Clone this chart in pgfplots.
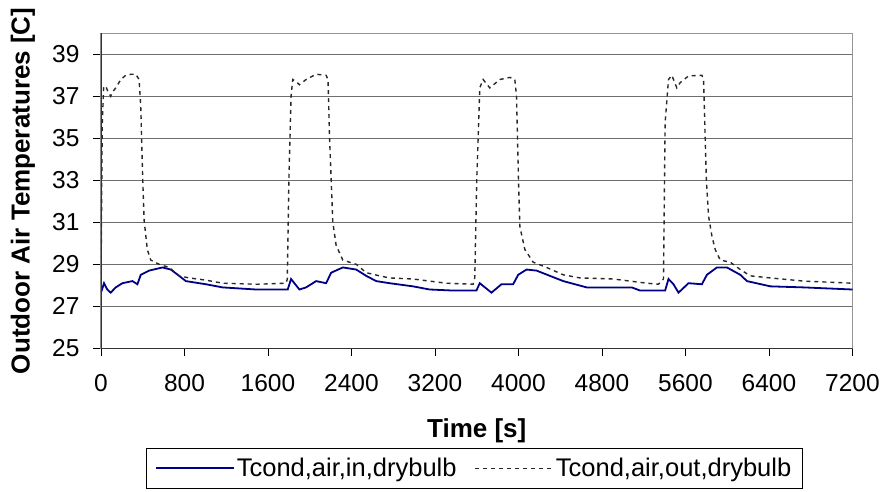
\documentclass[border=0pt]{standalone}
\usepackage{pgfplots}
\pgfplotsset{compat=1.18}
\usepackage{fontspec}
\setmainfont{Liberation Sans}
\definecolor{InBlue}{RGB}{0,0,135}
\definecolor{OutGray}{RGB}{40,40,40}
\definecolor{GridGray}{RGB}{110,110,110}
\definecolor{FrameGray}{RGB}{150,150,150}
\newcommand{\tickfont}{\fontsize{24.5bp}{28bp}\selectfont}
\newcommand{\titlefont}{\fontsize{26bp}{30bp}\selectfont\bfseries}
\newcommand{\legfont}{\fontsize{25.5bp}{30bp}\selectfont}

\begin{document}
\begin{tikzpicture}
\useasboundingbox (-101bp,-143.7bp) rectangle (784bp,348.3bp);
\begin{axis}[
  at={(0,0)}, anchor=south west,
  scale only axis,
  width=751.5bp, height=315bp,
  xmin=0, xmax=7200, ymin=25, ymax=40,
  xtick={0,800,...,7200},
  ytick={25,27,...,39},
  xtick pos=bottom, ytick pos=left,
  tick align=outside,
  major tick length=8bp,
  tick style={black, line width=0.8bp},
  axis line style={FrameGray, line width=1bp},
  ymajorgrids,
  grid style={GridGray, line width=1bp},
  /pgf/number format/assume math mode=true,
  /pgf/number format/1000 sep={},
  tick label style={font=\tickfont},
  xticklabel style={yshift=-15bp},
  yticklabel style={xshift=-10bp},
  xlabel={Time [s]},
  ylabel={Outdoor Air Temperatures [C]},
  label style={font=\titlefont},
  xlabel style={at={(axis description cs:0.5,-0.262)}, anchor=center},
  ylabel style={at={(axis description cs:-0.104,0.5)}, anchor=center},
  legend columns=2,
  legend style={at={(axis description cs:0.4965,-0.3165)}, anchor=north,
    draw=black, line width=0.8bp, font=\legfont,
    inner xsep=9bp, inner ysep=8bp,
    /tikz/every even column/.append style={column sep=16bp}},
  legend image code/.code={\draw[#1] (0bp,0bp) -- (78bp,0bp);},
]
% inlet air (blue)
\addplot[InBlue, line width=1.8bp] coordinates {
(0,27.65) (29,28.1) (60,27.8) (93,27.65) (141,27.9) (205,28.1) (301,28.2)
(349,28.05) (381,28.5) (461,28.7) (589,28.85) (669,28.75) (749,28.45)
(813,28.2) (1005,28.05) (1165,27.9) (1485,27.8) (1789,27.8) (1821,28.3)
(1901,27.8) (1965,27.9) (2061,28.2) (2157,28.1) (2205,28.6) (2317,28.85)
(2445,28.75) (2541,28.45) (2637,28.2) (2765,28.1) (2989,27.95) (3149,27.8)
(3373,27.75) (3597,27.75) (3629,28.1) (3741,27.65) (3837,28.05) (3949,28.05)
(3997,28.5) (4077,28.75) (4173,28.7) (4301,28.45) (4429,28.2) (4653,27.9)
(5085,27.9) (5165,27.75) (5405,27.75) (5437,28.3) (5485,28.05) (5533,27.65)
(5629,28.1) (5757,28.05) (5805,28.5) (5901,28.85) (5997,28.85) (6125,28.5)
(6189,28.2) (6413,27.95) (6733,27.9) (7200,27.8)
};
\addlegendentry{Tcond,air,in,drybulb}
% outlet air (dashed)
\addplot[OutGray, line width=1.4bp, dash pattern=on 4bp off 4bp] coordinates {
(0,28.1) (12,35.6) (25,37.4) (45,37.5) (60,37.3) (93,37.0) (110,37.2)
(141,37.4) (190,37.8) (237,38.0) (290,38.05) (333,38.05) (365,37.8)
(381,36.5) (400,33.0) (413,31.1) (444,29.7) (477,29.2) (557,29.0)
(653,28.85) (749,28.45) (845,28.35) (1000,28.25) (1165,28.1) (1500,28.05)
(1773,28.1) (1785,28.3) (1800,33) (1821,37.0) (1837,37.8) (1870,37.7)
(1901,37.55) (1965,37.8) (2061,38.05) (2157,38.0) (2175,37.8) (2190,35)
(2221,31.0) (2253,29.9) (2317,29.2) (2445,29.0) (2541,28.6) (2669,28.45)
(2765,28.35) (2989,28.3) (3309,28.1) (3565,28.05) (3581,28.35) (3600,33)
(3629,37.4) (3661,37.8) (3725,37.4) (3821,37.8) (3917,37.9) (3965,37.8)
(3981,37.0) (4000,33) (4013,30.8) (4061,29.7) (4141,29.1) (4269,28.85)
(4429,28.5) (4589,28.35) (4909,28.3) (5229,28.1) (5341,28.05) (5389,28.3)
(5405,35.75) (5437,37.8) (5469,38.0) (5517,37.4) (5549,37.65) (5629,37.97)
(5757,38.0) (5773,37.8) (5800,33) (5821,31.3) (5853,30.35) (5885,29.7)
(5933,29.2) (6029,29.1) (6125,28.75) (6221,28.45) (6413,28.35) (6733,28.2)
(7200,28.1)
};
\addlegendentry{Tcond,air,out,drybulb}
% dark left and bottom axis lines
\draw[black!80, line width=1.2bp] (rel axis cs:0,1) -- (rel axis cs:0,0) -- (rel axis cs:1,0);
\end{axis}
\end{tikzpicture}
\end{document}
